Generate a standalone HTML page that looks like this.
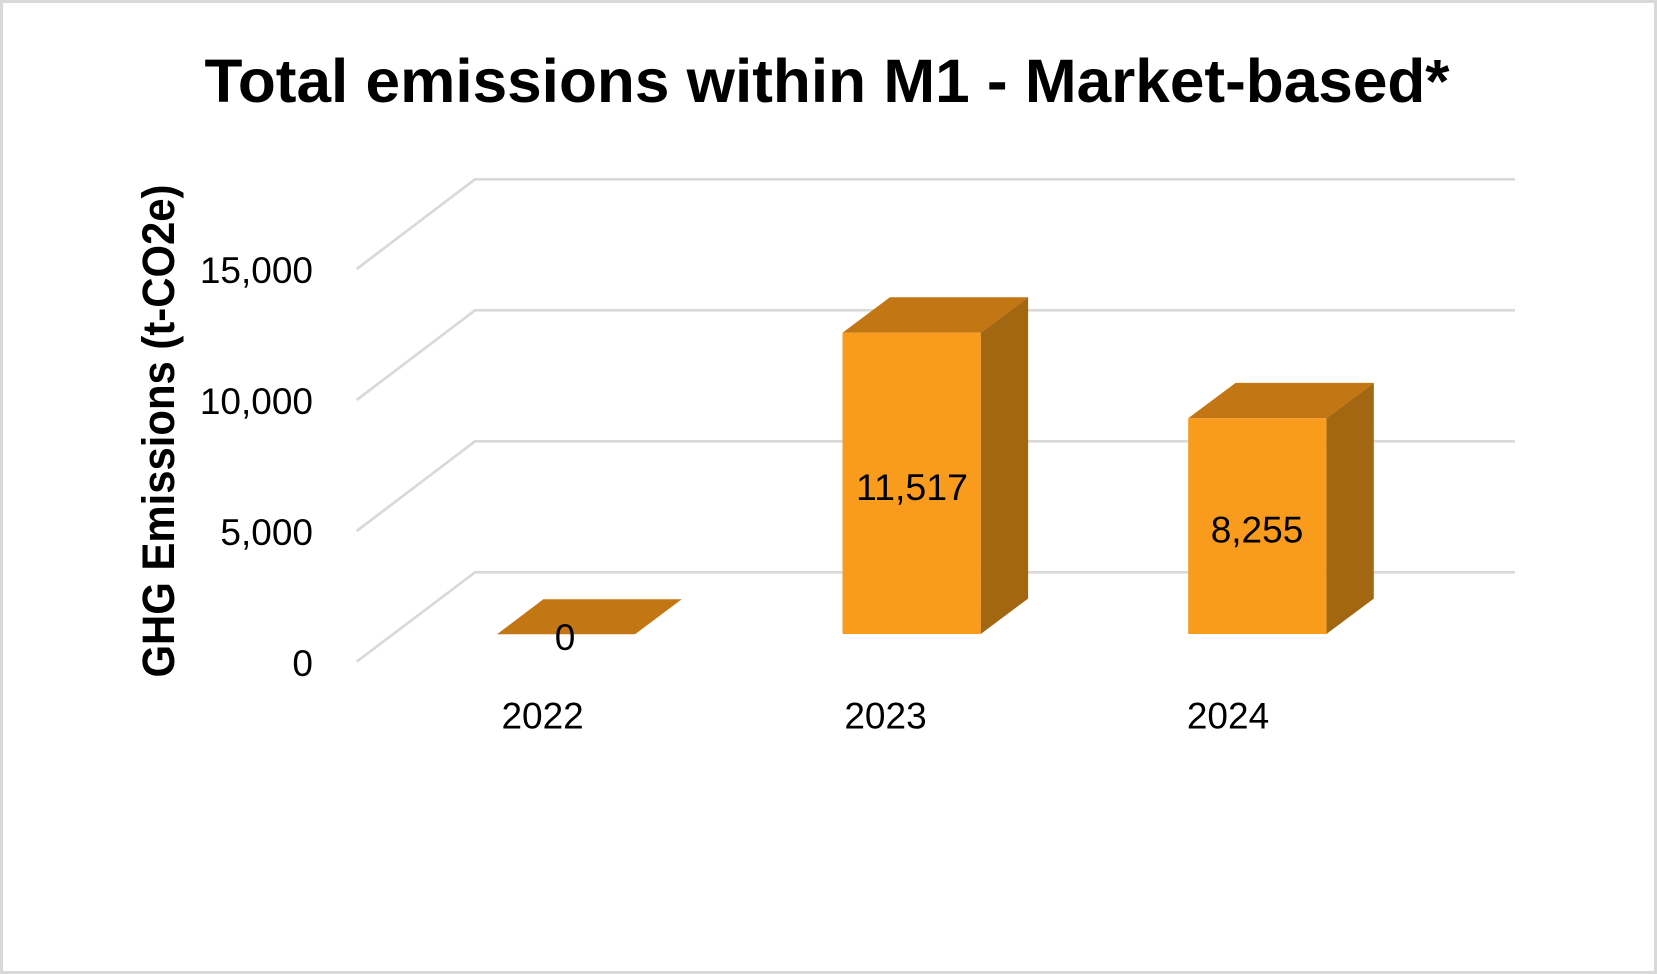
<!DOCTYPE html>
<html>
<head>
<meta charset="utf-8">
<style>
  html, body { margin: 0; padding: 0; background: #ffffff; }
  body { width: 1657px; height: 974px; overflow: hidden; }
  svg { display: block; }
  text { font-family: "Liberation Sans", "DejaVu Sans", sans-serif; fill: #000; }
</style>
</head>
<body>
<svg width="1657" height="974" viewBox="0 0 1657 974" xmlns="http://www.w3.org/2000/svg">
  <rect x="0" y="0" width="1657" height="974" fill="#ffffff"/>
  <rect x="1.5" y="1.5" width="1654" height="971" fill="none" stroke="#d9d9d9" stroke-width="3"/>

  <!-- Title -->
  <text x="204.5" y="102" font-size="61" font-weight="bold" textLength="1245" lengthAdjust="spacingAndGlyphs">Total emissions within M1 - Market-based*</text>

  <!-- Gridlines (3D back wall + side) -->
  <g fill="none" stroke="#d9d9d9" stroke-width="2.7" stroke-linejoin="miter">
    <polyline points="356.7,269 475,179.3 1515,179.3"/>
    <polyline points="356.7,400 475,310.3 1515,310.3"/>
    <polyline points="356.7,531 475,441.3 1515,441.3"/>
    <polyline points="356.7,661.7 475,572.3 1515,572.3"/>
  </g>

  <!-- Y axis labels -->
  <g font-size="37" text-anchor="end">
    <text x="313" y="283">15,000</text>
    <text x="313" y="414">10,000</text>
    <text x="313" y="545">5,000</text>
    <text x="313" y="676">0</text>
  </g>

  <!-- Y axis title -->
  <text transform="translate(174,431) rotate(-90)" x="0" y="0" font-size="45" font-weight="bold" text-anchor="middle" textLength="493" lengthAdjust="spacingAndGlyphs">GHG Emissions (t-CO2e)</text>

  <!-- Bar 2022 (zero, flat) -->
  <polygon points="497,634.3 635,634.3 681.7,599.3 543.3,599.3" fill="#c27614"/>

  <!-- Bar 2023 -->
  <polygon points="842.5,332.7 980.7,332.7 1028.1,297.3 889.9,297.3" fill="#c27614"/>
  <polygon points="980.7,332.7 1028.1,297.3 1028.1,598.6 980.7,634" fill="#a36711"/>
  <rect x="842.5" y="332.7" width="138.2" height="301.3" fill="#f99b1c"/>

  <!-- Bar 2024 -->
  <polygon points="1188.2,418.3 1326.4,418.3 1373.8,382.9 1235.6,382.9" fill="#c27614"/>
  <polygon points="1326.4,418.3 1373.8,382.9 1373.8,598.6 1326.4,634" fill="#a36711"/>
  <rect x="1188.2" y="418.3" width="138.2" height="215.7" fill="#f99b1c"/>

  <!-- Data labels -->
  <g font-size="37" text-anchor="middle">
    <text x="565" y="650">0</text>
    <text x="912" y="500" textLength="112" lengthAdjust="spacingAndGlyphs">11,517</text>
    <text x="1257" y="542.5">8,255</text>
  </g>

  <!-- Category labels -->
  <g font-size="37" text-anchor="middle">
    <text x="542.6" y="728.5">2022</text>
    <text x="885.5" y="728.5">2023</text>
    <text x="1228" y="728.5">2024</text>
  </g>
</svg>
</body>
</html>
